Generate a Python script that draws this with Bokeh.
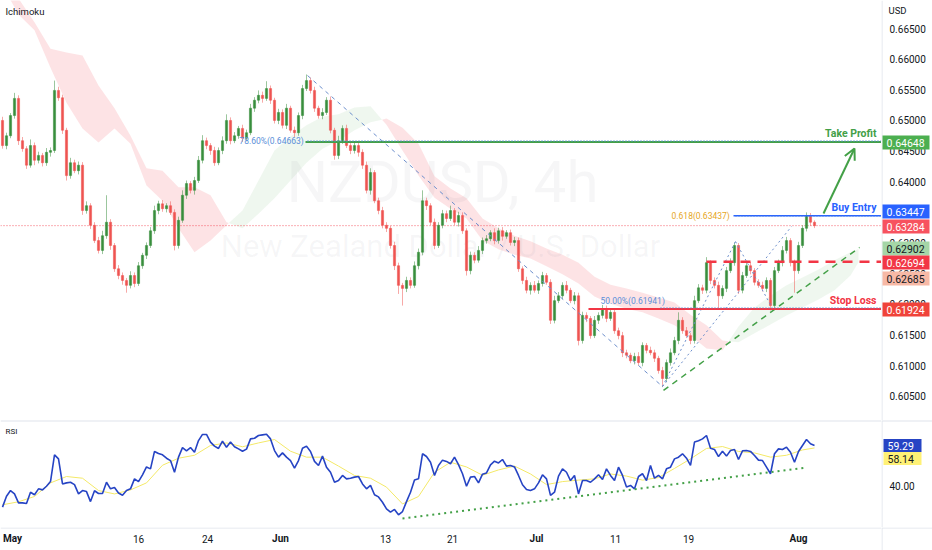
from bokeh.plotting import figure
from bokeh.layouts import column, row
from bokeh.models import Range1d, Label, Arrow, OpenHead
from bokeh.core.properties import value
from bokeh.embed import file_html
from bokeh.resources import INLINE

# ---------------- data ----------------
first_open = 0.6500
closes = [
    0.6459, 0.6475, 0.6508, 0.6536, 0.6467, 0.6454, 0.6427, 0.6459, 0.6435, 0.6443,
    0.6431, 0.6448, 0.6451, 0.6549, 0.6537, 0.6484, 0.6410, 0.6431, 0.6418, 0.6427,
    0.6353, 0.6361, 0.6329, 0.6304, 0.6288, 0.6312, 0.6334, 0.6296, 0.6258, 0.6247,
    0.6239, 0.6231, 0.6247, 0.6234, 0.6263, 0.6280, 0.6296, 0.6320, 0.6353, 0.6364,
    0.6356, 0.6361, 0.6350, 0.6296, 0.6337, 0.6378, 0.6397, 0.6386, 0.6402, 0.6435,
    0.6467, 0.6459, 0.6451, 0.6431, 0.6451, 0.6467, 0.6500, 0.6467, 0.6475, 0.6487,
    0.6471, 0.6480, 0.6520, 0.6533, 0.6541, 0.6536, 0.6552, 0.6533, 0.6500, 0.6513,
    0.6492, 0.6520, 0.6484, 0.6480, 0.6508, 0.6552, 0.6565, 0.6549, 0.6520, 0.6508,
    0.6513, 0.6533, 0.6484, 0.6443, 0.6467, 0.6487, 0.6459, 0.6451, 0.6459, 0.6448,
    0.6427, 0.6386, 0.6415, 0.6369, 0.6353, 0.6329, 0.6324, 0.6296, 0.6263, 0.6231,
    0.6226, 0.6239, 0.6231, 0.6263, 0.6285, 0.6369, 0.6361, 0.6334, 0.6296, 0.6329,
    0.6348, 0.6340, 0.6353, 0.6334, 0.6345, 0.6320, 0.6255, 0.6280, 0.6272, 0.6288,
    0.6304, 0.6307, 0.6317, 0.6304, 0.6320, 0.6311, 0.6317, 0.6301, 0.6304, 0.6258,
    0.6239, 0.6223, 0.6231, 0.6223, 0.6234, 0.6247, 0.6236, 0.6174, 0.6206, 0.6214,
    0.6231, 0.6223, 0.6206, 0.6214, 0.6141, 0.6182, 0.6177, 0.6149, 0.6174, 0.6182,
    0.6193, 0.6177, 0.6187, 0.6157, 0.6149, 0.6121, 0.6117, 0.6108, 0.6115, 0.6105,
    0.6133, 0.6125, 0.6121, 0.6112, 0.6092, 0.6079, 0.6105, 0.6121, 0.6141, 0.6174,
    0.6157, 0.6149, 0.6141, 0.6206, 0.6227, 0.6223, 0.6268, 0.6239, 0.6231, 0.6214,
    0.6226, 0.6255, 0.6268, 0.6296, 0.6223, 0.6247, 0.6263, 0.6255, 0.6236, 0.6231,
    0.6226, 0.6239, 0.6198, 0.6255, 0.6268, 0.6288, 0.6304, 0.6268, 0.6255, 0.6296,
    0.6324, 0.6345, 0.6334, 0.63284,
]
upper_wick_pips = [
    6, 5, 4, 9, 5, 6, 4, 10, 5, 6, 4, 7, 5, 16, 6, 5, 4, 8, 5, 6,
    5, 7, 4, 5, 6, 8, 44, 5, 4, 6, 5, 4, 7, 5, 6, 4, 5, 6, 8, 5,
    6, 4, 7, 5, 6, 8, 5, 4, 6, 7, 9, 5, 4, 6, 5, 7, 10, 5, 6, 4,
    6, 5, 7, 5, 8, 6, 12, 5, 4, 6, 5, 7, 4, 6, 5, 6, 10, 5, 6, 4,
    7, 5, 6, 4, 8, 5, 6, 4, 5, 6, 5, 6, 7, 4, 5, 6, 5, 4, 6, 5,
    4, 6, 5, 7, 6, 17, 5, 4, 6, 5, 6, 5, 8, 4, 6, 5, 4, 6, 5, 7,
    5, 6, 4, 7, 5, 6, 4, 5, 6, 5, 4, 6, 5, 7, 5, 6, 4, 5, 8, 6,
    5, 7, 4, 6, 5, 6, 5, 4, 7, 5, 6, 5, 7, 4, 5, 6, 5, 4, 6, 7,
    5, 4, 6, 5, 4, 6, 5, 7, 6, 13, 5, 6, 4, 8, 6, 5, 9, 4, 5, 6,
    5, 6, 7, 5, 4, 6, 5, 6, 4, 5, 6, 5, 4, 6, 5, 7, 6, 4, 5, 6,
    5, 5, 4, 3,
]
lower_wick_pips = [
    5, 6, 4, 5, 7, 5, 6, 4, 8, 5, 6, 5, 7, 4, 5, 6, 8, 5, 4, 6,
    7, 5, 6, 4, 5, 6, 5, 7, 5, 6, 7, 12, 5, 6, 4, 5, 6, 4, 5, 6,
    5, 6, 4, 8, 5, 4, 6, 5, 7, 4, 5, 6, 7, 5, 4, 6, 5, 6, 4, 5,
    6, 5, 4, 6, 5, 7, 4, 6, 5, 6, 5, 6, 4, 7, 5, 6, 4, 5, 6, 5,
    6, 4, 5, 7, 6, 5, 4, 6, 5, 7, 6, 5, 7, 4, 6, 5, 6, 5, 7, 14,
    28, 6, 5, 4, 6, 5, 7, 5, 6, 4, 5, 6, 4, 5, 7, 5, 8, 6, 5, 4,
    6, 5, 4, 6, 5, 7, 4, 5, 6, 5, 6, 5, 7, 4, 6, 5, 4, 6, 5, 4,
    6, 5, 4, 6, 8, 5, 6, 5, 4, 6, 5, 6, 4, 5, 6, 7, 5, 4, 6, 5,
    6, 5, 4, 6, 5, 14, 6, 5, 4, 6, 5, 4, 6, 5, 4, 6, 5, 6, 5, 21,
    5, 6, 4, 5, 6, 5, 4, 6, 5, 4, 5, 6, 8, 5, 4, 6, 5, 6, 36, 5,
    4, 5, 6, 4,
]
# Ichimoku cloud (leading spans, shifted forward)
cloud_bar = list(range(0, 213, 4)) + [214]
span_a = [
    0.6720, 0.6673, 0.6647, 0.6586, 0.6529, 0.6487, 0.6464, 0.6487, 0.6462, 0.6394,
    0.6369, 0.6324, 0.6285, 0.6304, 0.6329, 0.6353, 0.6402, 0.6451, 0.6474, 0.6492,
    0.6506, 0.6510, 0.6521, 0.6523, 0.6493, 0.6451, 0.6410, 0.6374, 0.6356, 0.6340,
    0.6304, 0.6290, 0.6281, 0.6275, 0.6262, 0.6249, 0.6234, 0.6213, 0.6201, 0.6193,
    0.6187, 0.6177, 0.6166, 0.6149, 0.6128, 0.6125, 0.6164, 0.6195, 0.6214, 0.6231,
    0.6244, 0.6257, 0.6272, 0.6285, 0.62902,
]
span_b = [
    0.6737, 0.6699, 0.6660, 0.6617, 0.6611, 0.6606, 0.6557, 0.6520, 0.6475, 0.6422,
    0.6418, 0.6391, 0.6391, 0.6378, 0.6334, 0.6324, 0.6348, 0.6373, 0.6402, 0.6431,
    0.6454, 0.6467, 0.6484, 0.6497, 0.6503, 0.6488, 0.6462, 0.6409, 0.6389, 0.6373,
    0.6340, 0.6324, 0.6312, 0.6303, 0.6291, 0.6281, 0.6268, 0.6245, 0.6232, 0.6226,
    0.6219, 0.6211, 0.6203, 0.6183, 0.6166, 0.6141, 0.6138, 0.6153, 0.6167, 0.6182,
    0.6195, 0.6208, 0.6223, 0.6247, 0.62685,
]
rsi = [
    30.3, 35.4, 38.1, 36.5, 32.3, 32.3, 32.0, 37.3, 36.1, 38.9,
    38.4, 40.1, 42.3, 54.9, 53.0, 41.2, 41.7, 42.0, 40.9, 36.5,
    38.1, 37.6, 32.9, 38.0, 36.7, 36.7, 42.0, 38.9, 39.5, 36.9,
    35.9, 38.1, 38.9, 43.6, 42.3, 45.5, 49.2, 48.3, 56.5, 55.5,
    54.9, 53.3, 52.2, 46.7, 53.8, 58.3, 56.8, 58.3, 56.1, 61.6,
    64.5, 64.5, 60.9, 59.0, 57.9, 61.3, 58.5, 60.9, 58.7, 57.7,
    56.6, 57.6, 62.4, 62.7, 64.0, 64.3, 64.6, 62.4, 56.9, 53.8,
    55.8, 53.8, 52.2, 48.6, 52.2, 58.0, 59.0, 56.5, 51.8, 49.9,
    54.3, 49.1, 46.7, 42.0, 42.8, 45.2, 43.6, 43.9, 44.4, 44.7,
    41.2, 38.9, 40.5, 36.1, 35.1, 32.6, 29.5, 27.9, 29.2, 26.7,
    28.2, 32.9, 37.3, 43.1, 43.6, 55.4, 54.1, 51.4, 45.2, 49.9,
    52.4, 51.8, 50.7, 53.8, 50.3, 46.0, 40.1, 44.4, 44.7, 41.7,
    45.8, 46.4, 50.2, 51.9, 51.1, 52.7, 49.6, 49.9, 49.2, 45.2,
    40.8, 38.6, 38.1, 38.9, 41.7, 45.5, 43.6, 35.8, 37.3, 44.9,
    48.3, 46.7, 42.8, 45.2, 36.5, 42.8, 42.8, 42.0, 43.6, 45.5,
    43.3, 48.3, 45.2, 42.8, 49.1, 45.2, 39.8, 40.5, 38.9, 44.7,
    46.0, 42.8, 49.9, 43.9, 45.2, 43.6, 48.3, 49.1, 53.0, 53.8,
    55.4, 53.3, 49.9, 60.9, 61.5, 62.4, 64.0, 58.0, 57.4, 54.1,
    56.6, 54.3, 56.9, 57.4, 52.7, 56.8, 56.9, 56.5, 54.6, 52.4,
    52.2, 49.1, 46.0, 55.4, 57.7, 57.4, 58.5, 56.1, 51.4, 56.5,
    59.3, 62.1, 60.1, 59.29,
]
rsi_ma_bar = list(range(0, 201, 4)) + [203]
rsi_ma = [
    31.4, 32.8, 35.3, 41.7, 44.7, 43.9, 38.1, 36.5, 38.4, 41.7,
    50.0, 53.3, 54.7, 59.3, 60.5, 58.7, 60.5, 62.1, 56.6, 53.8,
    53.8, 49.6, 45.2, 43.9, 39.7, 31.8, 35.3, 46.7, 51.4, 49.2,
    45.3, 47.8, 49.6, 45.9, 40.9, 42.3, 43.0, 43.6, 45.9, 44.9,
    43.0, 44.2, 48.5, 53.0, 57.9, 58.8, 56.5, 55.8, 53.8, 54.7,
    57.2, 58.14,
]
date_tick_bar = [2.5, 34, 51.25, 69.5, 95.75, 112.5, 133.5, 153.25, 171.5, 199]
date_labels = ["May", "16", "24", "Jun", "13", "21", "Jul", "11", "19", "Aug"]
month_labels = {"May", "Jun", "Jul", "Aug"}
price_ticks = [0.605, 0.61, 0.615, 0.62, 0.625, 0.63, 0.635, 0.64, 0.645, 0.65, 0.655, 0.66, 0.665]
rsi_ticks = [40]

take_profit = 0.64648
buy_entry = 0.63447
last_price = 0.63284
span_a_last = 0.62902
middle_level = 0.62694
span_b_last = 0.62685
stop_loss = 0.61924
fib_786 = 0.64663
fib_618 = 0.63437
fib_500 = 0.61941
swing_high = (76.25, 0.65733)
swing_low = (165.0, 0.60660)
pattern_b = (183.25, 0.63025)
pattern_c = (192.25, 0.61965)
pattern_d = (197.25, 0.63270)
trend_start = (165.25, 0.60595)
trend_end = (214.25, 0.62928)
rsi_trend = ([100, 201], [24.9, 48.9])
rsi_last = 59.29
rsi_ma_last = 58.14

# ---------------- styling ----------------
FONT = "Roboto"
TXT = "#131722"
GRID = "#e0e3eb"
UP, DOWN = "#388e3c", "#ef5350"
GREEN, BLUE, RED = "#43a047", "#2962ff", "#f23645"
FIBBLUE = "#5b8fd9"
RSI_BLUE = "#2644c4"
W_MAIN, W_AX = 881, 51
H_MAIN, H_RSI, H_DATE = 420, 107, 23
X0, X1 = -0.5, 219.75


def ref_price(y):  # vertical pixel in the picture -> price
    return 0.665 - (y - 28) / 6130.0


def rsi_y(y):  # vertical pixel in the picture -> RSI value
    return 59.29 - (y - 445) / 2.125


Y0, Y1 = ref_price(H_MAIN), ref_price(0)
R0, R1 = rsi_y(H_MAIN + H_RSI), rsi_y(H_MAIN)

n = len(closes)
bars = list(range(n))
opens = [first_open] + closes[:-1]
highs = [max(o, c) + u / 10000 for o, c, u in zip(opens, closes, upper_wick_pips)]
lows = [min(o, c) - d / 10000 for o, c, d in zip(opens, closes, lower_wick_pips)]
cols = [UP if c >= o else DOWN for o, c in zip(opens, closes)]


def panel(w, h, xr, yr):
    f = figure(width=w, height=h, x_range=xr, y_range=yr, output_backend="svg", toolbar_location=None,
               x_axis_location=None, y_axis_location=None, min_border=0)
    f.outline_line_color = None
    f.background_fill_color = "white"
    f.border_fill_color = "white"
    f.xgrid.visible = False
    f.ygrid.visible = False
    return f


def lab(fig, x, y, text, color=TXT, size="10px", align="left", style="normal"):
    fig.add_layout(Label(x=x, y=y, text=text, text_color=color, text_font=FONT, text_font_size=size,
                         text_align=align, text_baseline="middle", text_font_style=style))


# ---------------- main pane ----------------
p = panel(W_MAIN, H_MAIN, Range1d(X0, X1), Range1d(Y0, Y1))

segs = []
cx, ca, cb = [cloud_bar[0]], [span_a[0]], [span_b[0]]
green = span_a[0] >= span_b[0]
for k in range(1, len(cloud_bar)):
    g2 = span_a[k] >= span_b[k]
    if g2 != green:
        d0 = span_a[k - 1] - span_b[k - 1]
        d1 = span_a[k] - span_b[k]
        t = d0 / (d0 - d1)
        xc = cloud_bar[k - 1] + t * (cloud_bar[k] - cloud_bar[k - 1])
        yc = span_a[k - 1] + t * (span_a[k] - span_a[k - 1])
        cx.append(xc); ca.append(yc); cb.append(yc)
        segs.append((cx, ca, cb, green))
        cx, ca, cb = [xc], [yc], [yc]
        green = g2
    cx.append(cloud_bar[k]); ca.append(span_a[k]); cb.append(span_b[k])
segs.append((cx, ca, cb, green))
for sx, sa, sb, g in segs:
    p.varea(x=sx, y1=sa, y2=sb, fill_color=GREEN if g else RED, fill_alpha=0.085 if g else 0.14)

# watermark
p.text(x=[110], y=[ref_price(181)], text=["NZDUSD, 4h"], text_font=value(FONT), text_font_size="58px",
       text_color="#787b86", text_alpha=0.065, text_align="center", text_baseline="middle")
p.text(x=[109.5], y=[ref_price(246)], text=["New Zealand Dollar / U.S. Dollar"], text_font=value(FONT),
       text_font_size="31px", text_color="#787b86", text_alpha=0.065, text_align="center", text_baseline="middle")

p.segment(x0=[X0], y0=[last_price], x1=[X1], y1=[last_price], line_color=RED, line_dash="1 2",
          line_width=1, line_alpha=0.8)

# candles
p.segment(x0=bars, y0=lows, x1=bars, y1=highs, line_color=cols, line_width=1, line_alpha=0.5)
p.vbar(x=bars, width=0.55, top=[max(o, c) for o, c in zip(opens, closes)],
       bottom=[min(o, c) for o, c in zip(opens, closes)], fill_color=cols, line_color=cols, line_width=0.5)

# drawings
p.line([swing_high[0], swing_low[0]], [swing_high[1], swing_low[1]], line_color="#6d8fcc",
       line_dash="4 4", line_width=1)
for a, b in [(swing_low, pattern_b), (pattern_b, pattern_c), (swing_low, pattern_d)]:
    p.line([a[0], b[0]], [a[1], b[1]], line_color="#6d8fcc", line_dash="2 3", line_width=1)
p.line([trend_start[0], trend_end[0]], [trend_start[1], trend_end[1]], line_color=GREEN,
       line_dash="6 5", line_width=1.5)

p.segment(x0=[75.75], y0=[take_profit], x1=[X1], y1=[take_profit], line_color=GREEN, line_width=2)
p.segment(x0=[76.25], y0=[fib_786], x1=[X1], y1=[fib_786], line_color=FIBBLUE, line_dash="1 2", line_width=1.5)
p.segment(x0=[182.75], y0=[buy_entry], x1=[X1], y1=[buy_entry], line_color=BLUE, line_width=1.5)
p.segment(x0=[183.25], y0=[fib_618], x1=[X1], y1=[fib_618], line_color=FIBBLUE, line_dash="1 2", line_width=1.2)
p.segment(x0=[146.5], y0=[stop_loss], x1=[X1], y1=[stop_loss], line_color=RED, line_width=2)
p.segment(x0=[164.5], y0=[fib_500], x1=[X1], y1=[fib_500], line_color=FIBBLUE, line_dash="1 2", line_width=1.2)
p.segment(x0=[176], y0=[middle_level], x1=[X1], y1=[middle_level], line_color=RED, line_dash="10 7", line_width=2.5)

p.add_layout(Arrow(end=OpenHead(size=11, line_color=GREEN, line_width=2), x_start=205.25, y_start=ref_price(213),
                   x_end=213.0, y_end=ref_price(148), line_color=GREEN, line_width=2))

lab(p, 0.75, ref_price(11), "Ichimoku", size="9.5px")
lab(p, 75.3, fib_786, "78.60%(0.64663)", color=FIBBLUE, size="8.5px", align="right")
lab(p, 181.8, fib_618, "0.618(0.63437)", color="#e6a623", size="8.5px", align="right")
lab(p, 149.5, ref_price(300), "50.00%(0.61941)", color=FIBBLUE, size="8.5px")
lab(p, 218.5, ref_price(133), "Take Profit", color=GREEN, size="10.5px", align="right", style="bold")
lab(p, 218.5, ref_price(207), "Buy Entry", color=BLUE, size="10.5px", align="right", style="bold")
lab(p, 218.5, ref_price(300), "Stop Loss", color=RED, size="10.5px", align="right", style="bold")

# ---------------- main price scale ----------------
pa = panel(W_AX, H_MAIN, Range1d(0, W_AX), p.y_range)
pa.segment(x0=[0.5], y0=[Y0], x1=[0.5], y1=[Y1], line_color=GRID, line_width=1)
pa.text(x=[8] * len(price_ticks), y=price_ticks, text=["%.5f" % v for v in price_ticks],
        text_font=value(FONT), text_font_size="10px", text_color=TXT, text_baseline="middle")
pa.text(x=[7], y=[ref_price(10)], text=["USD"], text_font=value(FONT), text_font_size="9.5px",
        text_color=TXT, text_baseline="middle")
tags = [(take_profit, 142, "#4caf50", "white"), (buy_entry, 211, BLUE, "white"),
        (last_price, 226, "#f7525f", "white"), (span_a_last, 248, "#a5d6a7", TXT),
        (middle_level, 262, RED, "white"), (span_b_last, 278, "#f7b9a6", TXT),
        (stop_loss, 309, "#f0433a", "white")]
pa.rect(x=[24.5] * len(tags), y=[ref_price(t[1]) for t in tags], width=47, height=14,
        width_units="screen", height_units="screen", fill_color=[t[2] for t in tags], line_color=None)
pa.text(x=[5] * len(tags), y=[ref_price(t[1]) for t in tags], text=["%.5f" % t[0] for t in tags],
        text_font=value(FONT), text_font_size="10.5px", text_color=[t[3] for t in tags], text_baseline="middle")

# ---------------- RSI pane ----------------
q = panel(W_MAIN, H_RSI, p.x_range, Range1d(R0, R1))
q.segment(x0=[X0], y0=[R1], x1=[X1], y1=[R1], line_color=GRID, line_width=2)
q.line(rsi_ma_bar, rsi_ma, line_color="#f4e967", line_width=1)
q.line(bars, rsi, line_color=RSI_BLUE, line_width=1.6)
q.line(rsi_trend[0], rsi_trend[1], line_color=GREEN, line_dash="2 4", line_width=2)
lab(q, 0.75, rsi_y(431), "RSI", size="8px")

qa = panel(W_AX, H_RSI, Range1d(0, W_AX), q.y_range)
qa.segment(x0=[0.5], y0=[R0], x1=[0.5], y1=[R1], line_color=GRID, line_width=1)
qa.segment(x0=[0], y0=[R1], x1=[W_AX], y1=[R1], line_color=GRID, line_width=2)
qa.text(x=[8] * len(rsi_ticks), y=rsi_ticks, text=["%.2f" % v for v in rsi_ticks], text_font=value(FONT),
        text_font_size="10px", text_color=TXT, text_baseline="middle")
rtags = [(rsi_last, 445, RSI_BLUE, "white"), (rsi_ma_last, 458, "#fff176", TXT)]
qa.rect(x=[21] * len(rtags), y=[rsi_y(t[1]) for t in rtags], width=38, height=13,
        width_units="screen", height_units="screen", fill_color=[t[2] for t in rtags], line_color=None)
qa.text(x=[6] * len(rtags), y=[rsi_y(t[1]) for t in rtags], text=["%.2f" % t[0] for t in rtags],
        text_font=value(FONT), text_font_size="10.5px", text_color=[t[3] for t in rtags], text_baseline="middle")

# ---------------- time scale ----------------
d = panel(W_MAIN, H_DATE, p.x_range, Range1d(H_DATE, 0))
d.segment(x0=[X0], y0=[0.5], x1=[X1], y1=[0.5], line_color=GRID, line_width=1)
for xb, t in zip(date_tick_bar, date_labels):
    d.text(x=[xb], y=[11], text=[t], text_font=value(FONT), text_font_size="10px", text_color=TXT,
           text_align="center", text_baseline="middle",
           text_font_style="bold" if t in month_labels else "normal")
dc = panel(W_AX, H_DATE, Range1d(0, W_AX), Range1d(H_DATE, 0))
dc.segment(x0=[0.5], y0=[0], x1=[0.5], y1=[H_DATE], line_color=GRID, line_width=1)
dc.segment(x0=[0], y0=[0.5], x1=[W_AX], y1=[0.5], line_color=GRID, line_width=1)

layout = column(row(p, pa, spacing=0), row(q, qa, spacing=0), row(d, dc, spacing=0), spacing=0)
open("out.html", "w").write(file_html(layout, INLINE))
